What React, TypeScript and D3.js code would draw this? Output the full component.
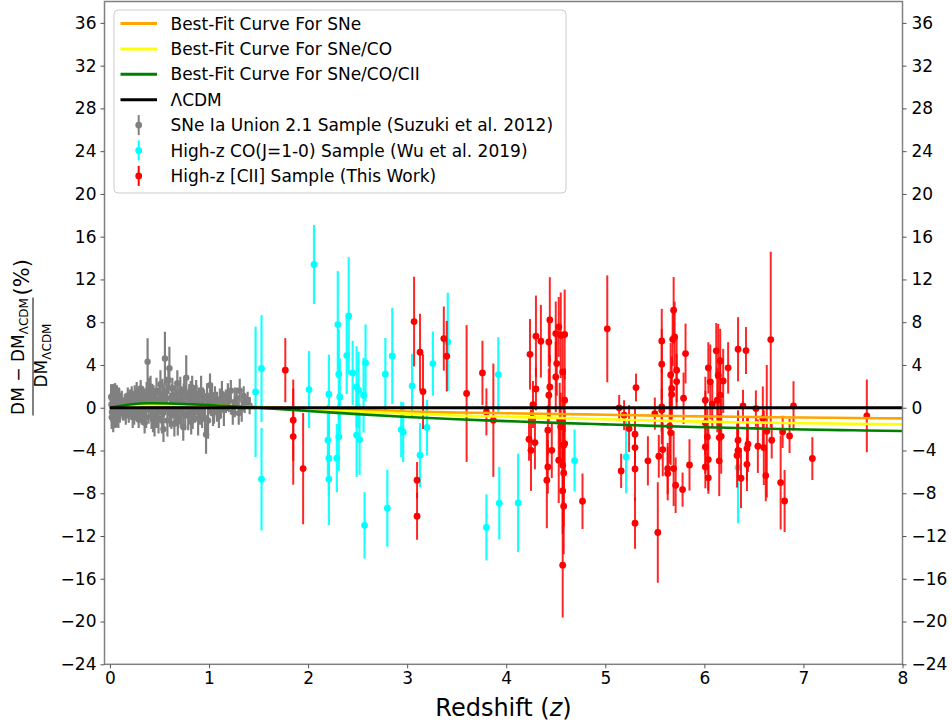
import React, { useEffect, useRef } from "react";
import * as d3 from "d3";

// SNe Ia Union 2.1 sample (grey)
const sneZ = [
  0.015, 0.02, 0.025, 0.03, 0.035, 0.04, 0.045, 0.05, 0.055, 0.06, 0.065, 0.07, 0.08, 0.09, 0.1, 0.11, 0.12, 0.13,
  0.15, 0.16, 0.17, 0.18, 0.19, 0.2, 0.21, 0.22, 0.23, 0.24, 0.25, 0.26, 0.27, 0.28, 0.29, 0.3, 0.31, 0.32, 0.33,
  0.34, 0.35, 0.36, 0.37, 0.38, 0.39, 0.4, 0.41, 0.42, 0.43, 0.44, 0.45, 0.46, 0.47, 0.48, 0.49, 0.5, 0.51, 0.52,
  0.53, 0.54, 0.555, 0.56, 0.57, 0.58, 0.59, 0.6, 0.61, 0.62, 0.63, 0.64, 0.65, 0.66, 0.67, 0.68, 0.69, 0.7, 0.71,
  0.72, 0.73, 0.74, 0.75, 0.77, 0.78, 0.79, 0.8, 0.81, 0.82, 0.83, 0.84, 0.85, 0.86, 0.87, 0.88, 0.89, 0.9, 0.92,
  0.93, 0.95, 0.97, 0.98, 0.99, 1.01, 1.02, 1.04, 1.06, 1.08, 1.1, 1.11, 1.13, 1.15, 1.17, 1.19, 1.22, 1.24, 1.26,
  1.28, 1.31, 1.33, 1.36, 1.39, 1.41,
  0.012, 0.018, 0.022, 0.028, 0.033, 0.038, 0.042, 0.048, 0.052, 0.058, 0.062, 0.068, 0.075, 0.085, 0.095,
  0.105, 0.14, 0.215, 0.245, 0.275, 0.305, 0.325, 0.345, 0.365, 0.395, 0.415, 0.435, 0.455, 0.475, 0.505,
  0.525, 0.545, 0.575, 0.605, 0.625, 0.655, 0.685, 0.715, 0.745, 0.76, 0.795, 0.815, 0.835, 0.855, 0.875,
  0.91, 0.94, 0.96, 1.0, 1.03, 1.05, 1.12, 1.2, 1.3, 1.35,
];
const sneDev = [
  0.3, -0.4, 0.8, -0.2, 0.5, -0.6, 0.2, 1.0, -0.3, 0.4, -0.8, 0.6, -0.1, 0.9, -0.5, 0.3, 0.7, -0.2,
  0.5, -0.7, 0.2, 1.1, -0.4, 0.6, 0.0, 1.3, -0.9, 0.4, 0.9, -0.3, 1.5, 0.1, -1.1, 0.8, 1.8, -0.5, 0.4,
  1.0, -1.4, 0.6, 1.4, 4.3, -0.2, 0.9, 2.0, -0.8, 0.5, 1.2, -1.6, 0.3, 1.6, 0.0, -1.0, 0.8, 2.2, -0.4,
  1.1, -2.0, 4.6, 0.4, 1.5, -1.2, 2.6, 3.7, 0.2, -0.7, 1.8, 0.6, -1.5, 1.0, 0.1, 2.3, -0.9, 0.7, 1.4,
  -0.3, 0.9, -1.8, 1.7, 2.8, 0.3, -0.6, 1.2, 0.5, -1.3, 1.9, 0.0, 0.8, -0.4, 1.3, 0.4, -1.0, 0.9, 1.6,
  -0.7, 0.2, -2.5, 1.1, -1.2, 2.1, 0.5, -0.5, 1.0, 0.1, -0.8, 0.8, 1.3, -0.2, 0.6, 1.0, 1.6, -0.4, 0.5,
  0.9, 1.6, -0.1, 0.4, 0.7, 0.2,
  1.0, -0.9, 0.1, 1.2, -1.0, 0.7, -0.3, 0.4, 1.3, -0.6, 0.9, -0.2, 0.5, -0.9, 0.6,
  0.1, -0.3, 0.8, -0.6, 0.5, -0.2, 1.1, 0.0, -0.9, 1.7, 0.3, -1.1, 0.7, -0.5, 1.3,
  -1.2, 0.6, 0.9, -0.4, 1.0, 0.3, -1.3, 0.5, 1.1, -0.7, 0.4, 1.5, -0.8, 0.2, 1.0,
  -0.3, 0.7, -1.0, 0.4, 1.2, -0.2, 0.3, 0.6, -0.5, 1.1,
];
const sneErr = [
  1.6, 1.5, 1.4, 1.8, 1.3, 1.2, 1.9, 1.3, 1.4, 1.1, 1.0, 1.5, 1.2, 1.0, 0.9, 1.1, 0.9, 1.0,
  0.8, 0.9, 1.2, 0.8, 1.0, 1.1, 0.9, 0.7, 1.0, 0.8, 1.2, 0.9, 0.9, 1.4, 0.8, 1.0, 0.8, 1.1, 1.6,
  0.9, 1.0, 1.2, 1.0, 2.2, 1.3, 1.1, 1.0, 1.2, 1.5, 0.9, 1.1, 1.3, 1.2, 1.0, 1.4, 1.2, 1.3, 1.0,
  1.6, 1.2, 2.5, 1.1, 1.4, 1.5, 1.3, 2.0, 1.2, 1.3, 1.0, 1.5, 1.2, 1.1, 1.6, 1.2, 1.0, 1.3, 1.5,
  1.4, 1.0, 1.3, 1.2, 2.1, 1.3, 1.5, 1.0, 1.7, 1.2, 1.1, 1.4, 1.2, 1.0, 1.3, 1.1, 1.6, 1.0, 1.4,
  1.2, 1.5, 1.8, 1.2, 1.7, 1.1, 1.3, 1.2, 1.0, 1.4, 1.1, 1.0, 1.2, 1.5, 1.1, 1.3, 1.0, 1.2, 1.4,
  1.0, 1.1, 1.2, 0.9, 0.8, 0.8,
  1.2, 1.1, 1.7, 1.0, 1.3, 1.5, 1.6, 1.4, 1.0, 1.3, 1.2, 1.6, 1.1, 1.0, 1.2,
  1.0, 0.9, 0.9, 1.0, 1.1, 1.2, 0.9, 1.4, 1.0, 1.1, 1.3, 1.2, 1.0, 1.4, 1.1,
  1.2, 1.5, 1.3, 1.4, 1.2, 1.1, 1.3, 1.5, 1.2, 1.4, 1.3, 1.0, 1.2, 1.5, 1.1,
  1.3, 1.2, 1.4, 1.0, 1.1, 1.3, 1.2, 1.0, 1.1, 0.9,
];

// High-z CO(J=1-0) sample (cyan)
const coZ = [
  1.47, 1.53, 1.53, 2.01, 2.06, 2.21, 2.2, 2.21, 2.21, 2.3, 2.31, 2.32, 2.31, 2.29, 2.41, 2.39, 2.45, 2.49, 2.51,
  2.56, 2.49, 2.52, 2.58, 2.57, 2.78, 2.8, 2.85, 2.94, 2.96, 3.05, 3.13, 3.2, 3.26, 3.41, 3.92, 3.8, 3.93, 4.12,
  4.69, 5.21, 6.34,
];
const coDev = [
  1.48, 3.67, -6.69, 1.7, 13.4, 1.26, -3.04, -4.72, -6.69, 7.78, 3.13, 1.01, -2.73, -4.72, 8.59, 4.88, 3.26, 1.95,
  1.64, 1.17, -2.57, -2.98, 4.19, -11.0, 3.13, -9.4, 4.85, -2.04, -2.29, 2.04, -4.44, -1.85, 4.13, 6.16, 3.1, -11.2,
  -8.93, -8.9, -4.94, -4.6, -5.6,
];
const coErr = [
  6.1, 5.0, 4.8, 3.6, 3.7, 3.7, 3.3, 3.5, 4.3, 5.0, 4.2, 3.6, 3.2, 3.2, 5.5, 3.6, 3.0, 3.8, 3.6,
  3.5, 3.9, 3.3, 3.6, 3.1, 3.4, 3.6, 4.5, 2.6, 2.8, 3.0, 3.0, 2.6, 3.0, 4.6, 3.5, 3.1, 3.4, 4.6,
  2.9, 3.4, 5.2,
];

// High-z [CII] sample (red)
const ciiZ = [
  1.77, 1.85, 1.85, 1.95, 3.07, 3.13, 3.16, 3.1, 3.1, 3.37, 3.4, 3.6, 3.76, 3.8, 3.87, 4.24, 4.3, 4.35, 4.44, 4.43,
  4.3, 4.27, 4.23, 4.25, 4.29, 4.41, 4.42, 4.42, 4.43, 4.44, 4.46, 4.5, 4.51, 4.5, 4.53, 4.55, 4.59, 4.57, 4.59,
  4.54, 4.58, 4.59, 4.57, 4.58, 4.57, 4.58, 4.57, 4.53, 4.55, 4.77, 5.02, 5.14, 5.19, 5.16, 5.24, 5.3, 5.3, 5.3,
  5.3, 5.31, 5.43, 5.5, 5.53, 5.57, 5.57, 5.57, 5.57, 5.54, 5.58, 5.69, 5.7, 5.68, 5.66, 5.72, 5.72, 5.67, 5.67,
  5.65, 5.66, 5.63, 5.69, 5.63, 5.71, 5.78, 5.79, 5.81, 5.85, 6.01, 6.01, 6.03, 6.01, 6.04, 6.01, 6.04, 6.04, 6.06,
  6.08, 6.12, 6.16, 6.14, 6.19, 6.16, 6.13, 6.15, 6.17, 6.15, 6.24, 6.34, 6.42, 6.39, 6.34, 6.34, 6.33, 6.37, 6.44,
  6.43, 6.43, 6.52, 6.54, 6.6, 6.59, 6.63, 6.62, 6.67, 6.68, 6.77, 6.79, 6.81, 6.86, 6.9, 7.09, 7.64,
];
const ciiDev = [
  3.51, -1.17, -2.7, -5.69, 8.06, 5.19, 1.51, -6.78, -10.15, 6.47, 4.82, 1.33, 3.26, -0.39, -1.17, 5.0, 6.69, 6.22,
  8.21, 6.16, 1.76, 0.3, -2.95, -3.98, -3.26, -6.78, -5.54, -2.1, 1.17, 1.95, -3.98, 6.94, 4.13, 2.88, 7.56, 6.78,
  6.85, 3.35, 0.7, -1.17, -3.51, -3.35, -5.38, -6.1, -7.78, -9.21, -14.73, -4.91, -1.79, -8.75, 7.38, -0.01, -0.7,
  -5.91, -1.95, -2.48, -3.73, -5.72, -10.8, 1.89, -4.97, -0.55, -11.67, 6.25, 4.07, 0.08, -0.23, -4.54, -3.91, 9.12,
  6.62, 6.4, 3.07, 3.51, 2.45, 1.8, 1.24, -1.73, -2.35, -5.69, -5.69, -6.16, -7.25, -7.66, 0.89, 5.07, -5.35, 0.7,
  -1.42, -2.73, -3.67, -4.85, -5.54, -6.56, 3.73, 2.42, 0.33, 5.32, 4.38, 3.04, 2.51, 1.17, 0.7, -2.79, -2.67, -4.97,
  3.73, 5.47, 5.35, 0.17, -3.04, -3.98, -4.47, -6.59, -3.41, -3.82, -5.29, -0.08, -3.6, -3.73, -1.01, -2.2, -6.35,
  6.38, -3.04, -7.0, -2.26, -8.72, -2.64, 0.17, -4.75, -0.76,
];
const ciiErr = [
  3.0, 3.8, 4.5, 5.2, 4.2, 3.6, 3.5, 1.7, 2.2, 3.0, 3.3, 6.4, 3.0, 2.2, 5.3, 3.3, 3.8, 3.4, 4.0, 2.3,
  2.0, 2.2, 2.0, 3.8, 2.5, 4.5, 2.5, 2.3, 2.5, 3.0, 2.6, 3.0, 3.0, 3.3, 2.8, 4.0, 4.2, 3.5, 3.0,
  3.5, 4.0, 3.0, 4.5, 5.0, 4.0, 4.5, 4.9, 4.0, 3.2, 2.6, 5.0, 1.2, 1.4, 1.6, 2.2, 2.5, 2.0, 3.0,
  2.4, 1.3, 2.3, 1.5, 4.7, 3.0, 3.3, 3.5, 2.0, 2.0, 2.5, 3.1, 3.3, 2.5, 3.0, 3.0, 2.6, 3.0, 2.2,
  3.5, 3.0, 2.4, 3.5, 2.5, 2.6, 1.6, 2.4, 2.8, 2.4, 2.2, 3.0, 2.6, 2.5, 3.2, 2.0, 1.2, 2.4, 3.5,
  2.2, 2.6, 3.0, 4.8, 3.0, 3.6, 3.0, 2.2, 3.5, 3.3, 2.4, 3.0, 2.2, 1.5, 2.8, 2.5, 3.0, 2.8, 2.6,
  3.0, 2.5, 1.7, 2.5, 3.5, 3.0, 6.2, 2.4, 8.2, 1.7, 4.4, 1.5, 2.9, 1.6, 2.3, 2.0, 3.4,
];

// best-fit curves, read at these redshifts
const curveZ = [0, 0.2, 0.4, 0.6, 0.8, 1.0, 1.2, 1.5, 2, 2.5, 3, 3.5, 4, 4.5, 5, 5.5, 6, 6.5, 7, 7.5, 8];
const fitSNe = [0, 0.15, 0.25, 0.27, 0.25, 0.22, 0.16, 0.07, -0.05, -0.2, -0.35, -0.45, -0.52, -0.58, -0.66, -0.74, -0.81, -0.87, -0.92, -0.96, -1.0];
const fitSNeCO = [0, 0.18, 0.27, 0.28, 0.25, 0.2, 0.13, 0.02, -0.15, -0.35, -0.55, -0.72, -0.85, -0.95, -1.08, -1.2, -1.3, -1.38, -1.45, -1.5, -1.55];
const fitSNeCOCII = [0, 0.3, 0.42, 0.4, 0.33, 0.25, 0.15, 0.0, -0.3, -0.6, -0.86, -1.08, -1.25, -1.42, -1.56, -1.7, -1.82, -1.93, -2.03, -2.11, -2.17];
const lcdmZ = [0, 8];
const lcdmDev = [0, 0];

const xTicks = [0, 1, 2, 3, 4, 5, 6, 7, 8];
const yTicks = [-24, -20, -16, -12, -8, -4, 0, 4, 8, 12, 16, 20, 24, 28, 32, 36];

const lineEntries = [
  { label: "Best-Fit Curve For SNe", color: "orange" },
  { label: "Best-Fit Curve For SNe/CO", color: "yellow" },
  { label: "Best-Fit Curve For SNe/CO/CII", color: "green" },
  { label: "\u039BCDM", color: "black" },
];
const pointEntries = [
  { label: "SNe Ia Union 2.1 Sample (Suzuki et al. 2012)", color: "grey" },
  { label: "High-z CO(J=1-0) Sample (Wu et al. 2019)", color: "cyan" },
  { label: "High-z [CII] Sample (This Work)", color: "red" },
];

const W = 952;
const H = 727;
const FONT = "DejaVu Sans";

const App = () => {
  const ref = useRef(null);

  useEffect(() => {
    const svg = d3.select(ref.current);
    svg.selectAll("*").remove();

    const left = 104.5, right = 902.5, top = 1.5, bottom = 664.3;
    const x = d3.scaleLinear().domain([-0.055, 8]).range([left, right]);
    const y = d3.scaleLinear().domain([-24, 38]).range([bottom, top]);

    svg.append("rect").attr("width", W).attr("height", H).attr("fill", "white");

    svg.append("clipPath").attr("id", "plot").append("rect")
      .attr("x", left).attr("y", top).attr("width", right - left).attr("height", bottom - top);

    const plot = svg.append("g").attr("clip-path", "url(#plot)");

    const drawErr = (zs, devs, errs, color, barWidth, barOpacity, r) => {
      const g = plot.append("g");
      g.selectAll("line").data(zs).join("line")
        .attr("x1", (d) => x(d)).attr("x2", (d) => x(d))
        .attr("y1", (d, i) => y(devs[i] - errs[i]))
        .attr("y2", (d, i) => y(devs[i] + errs[i]))
        .attr("stroke", color).attr("stroke-width", barWidth).attr("stroke-opacity", barOpacity);
      g.selectAll("circle").data(zs).join("circle")
        .attr("cx", (d) => x(d)).attr("cy", (d, i) => y(devs[i]))
        .attr("r", r).attr("fill", color);
    };

    drawErr(sneZ, sneDev, sneErr, "grey", 2.2, 1, 3.2);
    drawErr(coZ, coDev, coErr, "cyan", 2.2, 0.9, 3.4);
    drawErr(ciiZ, ciiDev, ciiErr, "red", 2, 0.85, 3.4);

    const curve = d3.line().x((d) => x(d[0])).y((d) => y(d[1])).curve(d3.curveMonotoneX);
    const curves = [
      [fitSNe, "orange", curveZ],
      [fitSNeCO, "yellow", curveZ],
      [fitSNeCOCII, "green", curveZ],
      [lcdmDev, "black", lcdmZ],
    ];
    curves.forEach(([vals, color, zs]) => {
      plot.append("path")
        .datum(zs.map((z, i) => [z, vals[i]]))
        .attr("fill", "none").attr("stroke", color)
        .attr("stroke-width", color === "black" ? 3 : 2.6)
        .attr("d", curve);
    });

    // spines
    svg.append("rect")
      .attr("x", left).attr("y", top).attr("width", right - left).attr("height", bottom - top)
      .attr("fill", "none").attr("stroke", "#808080").attr("stroke-width", 1.5);

    const styleAxis = (g) => {
      g.select(".domain").remove();
      g.selectAll("line").attr("stroke", "#555").attr("stroke-width", 1);
      g.selectAll("text").attr("font-family", FONT).attr("font-size", 17).attr("fill", "black");
    };

    svg.append("g").attr("transform", `translate(${left},0)`)
      .call(d3.axisLeft(y).tickValues(yTicks).tickSize(4).tickPadding(4))
      .call(styleAxis);
    svg.append("g").attr("transform", `translate(${right},0)`)
      .call(d3.axisRight(y).tickValues(yTicks).tickSize(4).tickPadding(5))
      .call(styleAxis);
    svg.append("g").attr("transform", `translate(0,${bottom})`)
      .call(d3.axisBottom(x).tickValues(xTicks).tickSize(4).tickPadding(4))
      .call(styleAxis);

    // x label
    const xl = svg.append("text").attr("x", (left + right) / 2).attr("y", 716)
      .attr("text-anchor", "middle").attr("font-family", FONT).attr("font-size", 24);
    xl.append("tspan").text("Redshift (");
    xl.append("tspan").attr("font-style", "italic").text("z");
    xl.append("tspan").text(")");

    // y label: fraction plus (%)
    const yl = svg.append("g").attr("transform", "translate(33,356.5) rotate(-90)")
      .attr("font-family", FONT);
    const num = yl.append("text").attr("x", 0).attr("y", -9).attr("text-anchor", "middle").attr("font-size", 17);
    num.append("tspan").text("DM \u2212 DM");
    num.append("tspan").attr("font-size", 12).attr("dy", 4).text("\u039BCDM");
    yl.append("line").attr("x1", -59).attr("x2", 59).attr("y1", 0).attr("y2", 0)
      .attr("stroke", "black").attr("stroke-width", 1);
    const den = yl.append("text").attr("x", 1).attr("y", 14).attr("text-anchor", "middle").attr("font-size", 17);
    den.append("tspan").text("DM");
    den.append("tspan").attr("font-size", 12).attr("dy", 4).text("\u039BCDM");
    yl.append("text").attr("x", 61).attr("y", -4).attr("font-size", 21).text("(%)");

    // legend
    const lg = svg.append("g");
    lg.append("rect").attr("x", 114).attr("y", 10).attr("width", 452).attr("height", 183).attr("rx", 4)
      .attr("fill", "white").attr("fill-opacity", 0.8).attr("stroke", "#cccccc");
    const rowY = (i) => 23.5 + i * 25.4;
    lineEntries.forEach((e, i) => {
      lg.append("line").attr("x1", 120.5).attr("x2", 157).attr("y1", rowY(i)).attr("y2", rowY(i))
        .attr("stroke", e.color).attr("stroke-width", 3);
      lg.append("text").attr("x", 170.5).attr("y", rowY(i)).attr("dy", "0.36em")
        .attr("font-family", FONT).attr("font-size", 17).text(e.label);
    });
    pointEntries.forEach((e, j) => {
      const cy = rowY(j + 4);
      lg.append("line").attr("x1", 138.7).attr("x2", 138.7).attr("y1", cy - 10).attr("y2", cy + 10)
        .attr("stroke", e.color).attr("stroke-width", 2);
      lg.append("circle").attr("cx", 138.7).attr("cy", cy).attr("r", 3.4).attr("fill", e.color);
      lg.append("text").attr("x", 170.5).attr("y", cy).attr("dy", "0.36em")
        .attr("font-family", FONT).attr("font-size", 17).text(e.label);
    });
  }, []);

  return (
    <svg ref={ref} width={W} height={H} style={{ position: "absolute", left: 0, top: 0 }}></svg>
  );
};

export default App;
